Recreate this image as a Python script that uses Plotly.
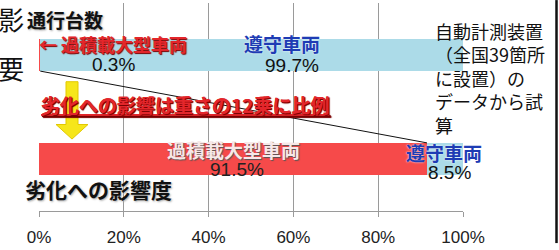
import plotly.graph_objects as go

# ---- data ----
categories = ["劣化への影響度", "通行台数"]
overloaded_pct = [91.5, 0.3]     # 過積載大型車両
compliant_pct = [8.5, 99.7]      # 遵守車両
series_names = ["過積載大型車両", "遵守車両"]
x_ticks = [0, 20, 40, 60, 80, 100]
x_tick_labels = ["0%", "20%", "40%", "60%", "80%", "100%"]

RED = "#f64a4a"
BLUE = "#acdbe8"
JP = "Noto Sans CJK JP"
LAT = "Liberation Sans"

fig = go.Figure()
fig.add_trace(go.Bar(y=categories, x=overloaded_pct, orientation="h", name=series_names[0],
                     marker=dict(color=RED, line=dict(width=0)), width=0.31))
fig.add_trace(go.Bar(y=categories, x=compliant_pct, orientation="h", name=series_names[1],
                     marker=dict(color=BLUE, line=dict(width=0)), width=0.31))

L, R, T, B = 39, 96, 3, 33
W, H = 559, 250
PW, PH = W - L - R, H - T - B


def px(xp):
    return (xp - L) / PW


def py(yp):
    return (H - B - yp) / PH


ann = []


def add(text, x, y, size, color, family=JP, xanchor="center", yanchor="middle", weight="normal",
        shadow="none", align="center", lineposition="none"):
    ann.append(dict(text=text, x=px(x), y=py(y), xref="paper", yref="paper", showarrow=False,
                    xanchor=xanchor, yanchor=yanchor, align=align,
                    font=dict(family=family, size=size, color=color, weight=weight,
                              shadow=shadow, lineposition=lineposition)))


add("影", 11, 19, 26, "#111")
add("要", 11, 69, 26, "#111")
add("通行台数", 65, 20, 19, "#111", weight="bold", shadow="1px 1px 2px #aaa")
add("← " + series_names[0], 37, 45, 18, "#e3262b", xanchor="left", weight="bold",
    shadow="1px 1px 1px #7a0000")
add(f"{overloaded_pct[1]}%", 113, 66, 19, "#111", family=LAT)
add(series_names[1], 282, 45, 19, "#1e3cb4", weight="bold", shadow="0 0 2px #fff")
add(f"{compliant_pct[1]}%", 292, 67, 19, "#111", family=LAT)
add("劣化への影響は重さの12乗に比例", 39, 107, 19, "#e3262b", xanchor="left", weight="bold",
    shadow="1px 1px 1px #7a0000", lineposition="under")
add(series_names[0], 233, 154, 19, "#f7e8e8", weight="bold", shadow="1px 1px 1px #555")
add(f"{overloaded_pct[0]}%", 237, 174, 19, "#222", family=LAT)
add(series_names[1], 444, 157, 19, "#1e3cb4", weight="bold", shadow="0 0 2px #fff")
add(f"{compliant_pct[0]}%", 449, 177, 19, "#111", family=LAT)
add("劣化への影響度", 23, 194, 21, "#111", xanchor="left", weight="bold", shadow="1px 1px 2px #aaa")
add("自動計測装置<br>（全国39箇所<br>に設置）の<br>データから試<br>算", 433, 16, 18, "#111",
    xanchor="left", yanchor="top", align="left")

shapes = [
    # white box behind the note
    dict(type="rect", xref="paper", yref="paper", x0=px(434), x1=px(552), y0=py(39), y1=py(18),
         fillcolor="white", line=dict(width=0), layer="between"),
    # connecting line between the two boundaries
    dict(type="line", xref="x", yref="y", x0=overloaded_pct[1], y0=1 - 0.155,
         x1=overloaded_pct[0], y1=0 + 0.155, line=dict(color="#111", width=1)),
    # yellow arrow
    dict(type="path", xref="paper", yref="paper",
         path=(f"M {px(66)} {py(84)} L {px(78)} {py(84)} L {px(78)} {py(128)} L {px(88)} {py(128)} "
               f"L {px(72)} {py(143)} L {px(56)} {py(128)} L {px(66)} {py(128)} Z"),
         fillcolor="#f6e61a", line=dict(color="#e2c800", width=1), layer="above"),
    # right border
    dict(type="line", xref="paper", yref="paper", x0=px(556.5), x1=px(556.5), y0=py(250), y1=py(0),
         line=dict(color="#111", width=2.5)),
]

fig.update_layout(
    width=W, height=H, margin=dict(l=L, r=R, t=T, b=B, pad=0),
    paper_bgcolor="white", plot_bgcolor="white",
    barmode="stack", showlegend=False, bargap=0,
    annotations=ann, shapes=shapes,
    xaxis=dict(range=[0, 100], tickvals=x_ticks, ticktext=x_tick_labels, showgrid=True,
               gridcolor="#9a9a9a", gridwidth=1, zeroline=False, showline=True, linecolor="#9a9a9a",
               ticks="outside", ticklen=5, tickcolor="#9a9a9a",
               tickfont=dict(family=LAT, size=17, color="#222"), ticklabelstandoff=6,
               fixedrange=True),
    yaxis=dict(type="category", categoryorder="array", categoryarray=categories,
               range=[-0.5, 1.5], showticklabels=False, showgrid=False, zeroline=False,
               showline=False, ticks="", fixedrange=True),
)

fig.write_html("out.html", config={"displayModeBar": False},
               post_script="document.body.style.margin='0';")
